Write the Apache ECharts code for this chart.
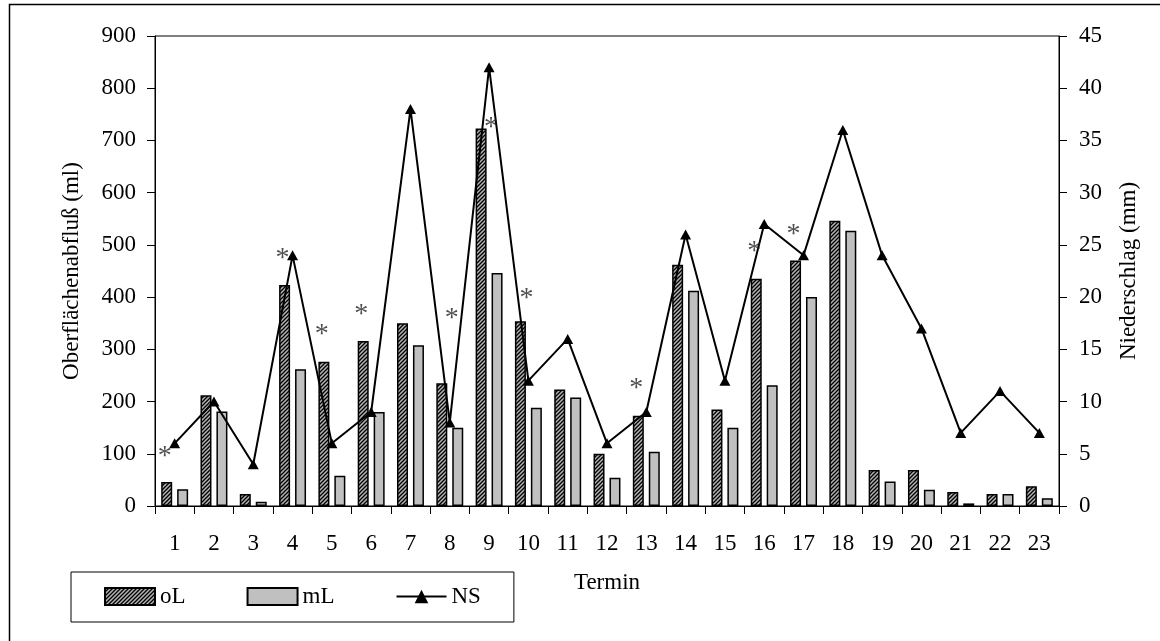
<!DOCTYPE html>
<html>
<head>
<meta charset="utf-8">
<script src="https://cdn.jsdelivr.net/npm/echarts@6/dist/echarts.min.js"></script>
<style>
  html, body { margin: 0; padding: 0; background: #fff; }
  #main { width: 1160px; height: 641px; }
</style>
</head>
<body>
<div id="main"></div>
<script>
// Termine (x-Achse)
var termine = ['1', '2', '3', '4', '5', '6', '7', '8', '9', '10', '11', '12',
  '13', '14', '15', '16', '17', '18', '19', '20', '21', '22', '23']
// Oberflächenabfluss ohne Laub (ml)
var oL = [46, 212, 23, 423, 276, 316, 350, 235, 723, 354, 223, 100,
  173, 462, 185, 435, 470, 546, 69, 69, 27, 23, 38]
// Oberflächenabfluss mit Laub (ml)
var mL = [32, 181, 8, 262, 58, 180, 308, 150, 446, 188, 208, 54,
  104, 412, 150, 231, 400, 527, 47, 31, 5, 23, 15]
// Niederschlag (mm)
var NS = [6, 10, 4, 24, 6, 9, 38, 8, 42, 12, 16, 6,
  9, 26, 12, 27, 24, 36, 24, 17, 7, 11, 7]
// Sternchen (Höhe in ml-Einheiten)
var sterne = [103, '-', '-', 481, 335, 374, '-', 366, 732, 404, '-', '-',
  232, '-', '-', 494, 527, '-', '-', '-', '-', '-', '-']

// horizontale Verschiebung der Sternchen (px)
var sternShift = { 7: 2, 8: 2, 9: -2 }

var serif = "'Liberation Serif', 'Times New Roman', serif"

// Schraffur für oL
function hatch () {
  var c = document.createElement('canvas')
  c.width = 4
  c.height = 4
  var ctx = c.getContext('2d')
  ctx.fillStyle = '#b4b4b4'
  ctx.fillRect(0, 0, 4, 4)
  ctx.strokeStyle = '#000'
  ctx.lineWidth = 1.3
  ctx.beginPath()
  ctx.moveTo(0, 4); ctx.lineTo(4, 0)
  ctx.moveTo(-1, 1); ctx.lineTo(1, -1)
  ctx.moveTo(3, 5); ctx.lineTo(5, 3)
  ctx.stroke()
  return c
}

var sternData = sterne.map(function (v, i) {
  var dx = sternShift[i] !== undefined ? sternShift[i] : -10
  return { value: v, label: { offset: [dx, 4] } }
})

var myChart = echarts.init(document.getElementById('main'))
var option = {
  backgroundColor: '#fff',
  animation: false,
  textStyle: { fontFamily: serif, color: '#000' },
  graphic: [
    {
      type: 'rect',
      left: 7,
      top: 2,
      shape: { width: 1200, height: 700 },
      style: { fill: 'none', stroke: '#000', lineWidth: 1.5 },
      silent: true
    }
  ],
  grid: {
    left: 155,
    right: 101,
    top: 36,
    bottom: 135,
    show: true,
    borderColor: '#000',
    borderWidth: 1
  },
  legend: {
    left: 71,
    top: 572,
    data: [
      { name: 'oL', icon: 'rect' },
      { name: 'mL', icon: 'rect' },
      { name: 'NS' }
    ],
    orient: 'horizontal',
    itemWidth: 50,
    itemHeight: 17,
    itemGap: 61,
    padding: [13, 33, 14, 33],
    borderColor: '#000',
    borderWidth: 1,
    textStyle: { fontFamily: serif, fontSize: 23, color: '#000' }
  },
  xAxis: {
    type: 'category',
    data: termine,
    name: 'Termin',
    nameLocation: 'middle',
    nameGap: 65,
    nameTextStyle: { fontFamily: serif, fontSize: 23, color: '#000' },
    axisLine: { lineStyle: { color: '#000', width: 1 } },
    axisTick: { show: true, length: 8, lineStyle: { color: '#000' } },
    axisLabel: { fontFamily: serif, fontSize: 23, color: '#000', margin: 26 },
    splitLine: { show: false }
  },
  yAxis: [
    {
      type: 'value',
      min: 0,
      max: 900,
      interval: 100,
      name: 'Oberflächenabfluß (ml)',
      nameLocation: 'middle',
      nameRotate: 90,
      nameGap: 72,
      nameTextStyle: { fontFamily: serif, fontSize: 23, color: '#000' },
      axisLine: { show: true, lineStyle: { color: '#000', width: 1 } },
      axisTick: { show: true, length: 8, lineStyle: { color: '#000' } },
      axisLabel: { fontFamily: serif, fontSize: 23, color: '#000', margin: 19 },
      splitLine: { show: false }
    },
    {
      type: 'value',
      min: 0,
      max: 45,
      interval: 5,
      position: 'right',
      name: 'Niederschlag (mm)',
      nameLocation: 'middle',
      nameRotate: 90,
      nameGap: 58,
      nameTextStyle: { fontFamily: serif, fontSize: 23, color: '#000' },
      axisLine: { show: true, lineStyle: { color: '#000', width: 1 } },
      axisTick: { show: true, length: 8, lineStyle: { color: '#000' } },
      axisLabel: { fontFamily: serif, fontSize: 23, color: '#000', margin: 20 },
      splitLine: { show: false }
    }
  ],
  series: [
    {
      name: 'oL',
      type: 'bar',
      data: oL,
      barWidth: 11,
      barGap: '45%',
      itemStyle: {
        color: { image: hatch(), repeat: 'repeat' },
        borderColor: '#000',
        borderWidth: 1.5
      }
    },
    {
      name: 'mL',
      type: 'bar',
      data: mL,
      barWidth: 11,
      barGap: '45%',
      itemStyle: {
        color: '#c0c0c0',
        borderColor: '#000',
        borderWidth: 1.5
      }
    },
    {
      name: 'NS',
      type: 'line',
      yAxisIndex: 1,
      data: NS,
      symbol: 'triangle',
      symbolSize: [11, 10],
      showAllSymbol: true,
      lineStyle: { color: '#000', width: 2 },
      itemStyle: { color: '#000' },
      z: 5
    },
    {
      name: 'Sterne',
      type: 'scatter',
      data: sternData,
      symbolSize: 0,
      label: {
        show: true,
        position: 'inside',
        formatter: '*',
        fontFamily: serif,
        fontSize: 28,
        color: '#222'
      },
      z: 6
    }
  ]
}
myChart.setOption(option)
</script>
</body>
</html>
